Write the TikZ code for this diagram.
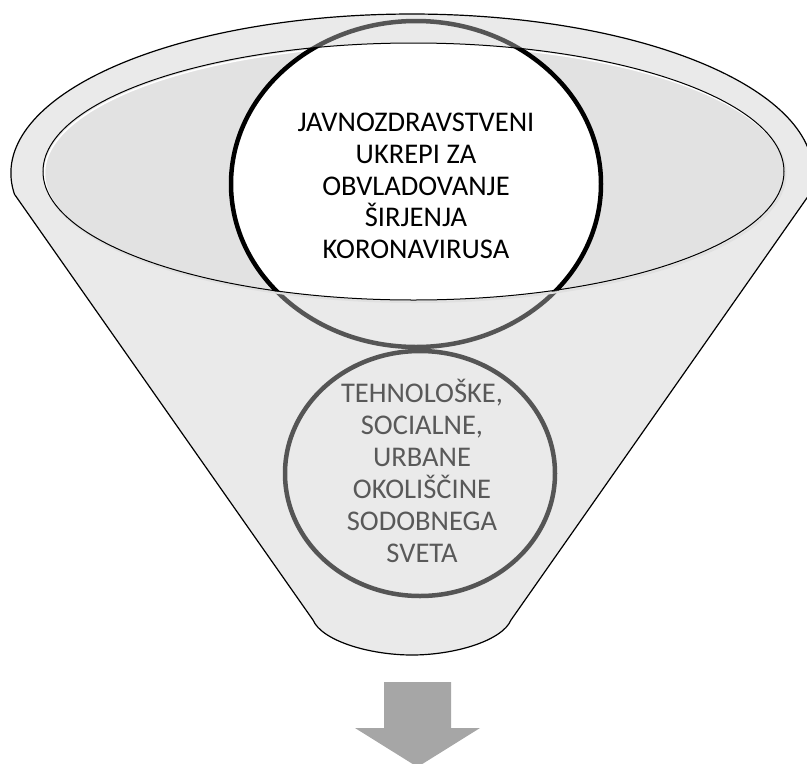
\documentclass[tikz,border=0pt]{standalone}
\usepackage{fontspec}
\setmainfont{Carlito}
\usetikzlibrary{shapes.geometric}

\definecolor{funnelfill}{HTML}{EAEAEA}
\definecolor{rimfill}{HTML}{E2E2E2}
\definecolor{ringgray}{HTML}{555555}
\definecolor{textgray}{HTML}{595959}
\definecolor{arrowgray}{HTML}{A6A6A6}

\tikzset{
  ring/.style={ellipse, draw=ringgray, line width=4.5pt, inner sep=0pt},
  ringtext/.style={align=center, inner sep=0pt, anchor=north, font=\fontsize{28.5}{31.9}\selectfont}
}

\begin{document}
\begin{tikzpicture}[x=1pt,y=-1pt]

          \useasboundingbox (0,0) rectangle (807,764);
          \clip (0,0) rectangle (807,764);

          % Funnel body with the open top
          \coordinate (rimc) at (412,173);
          \draw[fill=funnelfill, line width=1.2pt, line join=round]
              (15,195) -- (313,620) .. controls (322,641) and (370,655) .. (412,655)
              .. controls (454,655) and (502,641) .. (511,620) -- (809,195)
              arc[start angle=-7.95, end angle=187.95, x radius=401pt, y radius=159pt];

          % Lower ring
          \node[ring, minimum width=270pt, minimum height=245pt] (lower) at (420,473.5) {};
          \node[ringtext, text=textgray] (lowertext) at (422,379)
              {TEHNOLOŠKE,\\SOCIALNE,\\URBANE\\OKOLIŠČINE\\SODOBNEGA\\SVETA};

          % Upper ring, outside the rim
          \node[ring, minimum width=370pt, minimum height=326pt] (upper) at (416,184) {};

          % Rim of the funnel
          \draw[color=black!12, line width=2pt] (415,173.5) ellipse [x radius=370.5pt, y radius=128.5pt];
          \fill[rimfill] (413.5,171.5) ellipse [x radius=370.5pt, y radius=128.5pt];
          \begin{scope}
              \clip (413.5,171.5) ellipse [x radius=370.5pt, y radius=128.5pt];
              \draw[white, line width=1.5pt] (415,173.5) ellipse [x radius=370.5pt, y radius=128.5pt];
              \draw[fill=white, line width=4.5pt] (upper.center) ellipse [x radius=185pt, y radius=163pt];
          \end{scope}
          \draw[line width=1pt] (413.5,171.5) ellipse [x radius=370.5pt, y radius=128.5pt];

          \node[ringtext] (uppertext) at (416,112.5)
              {JAVNOZDRAVSTVENI\\UKREPI ZA\\OBVLADOVANJE\\ŠIRJENJA\\KORONAVIRUSA};

          % Arrow below the funnel
          \fill[arrowgray] (384,682) -- (451,682) -- (451,728) -- (480,728)
              -- (417.5,767) -- (355,728) -- (384,728) -- cycle;

\end{tikzpicture}
\end{document}
